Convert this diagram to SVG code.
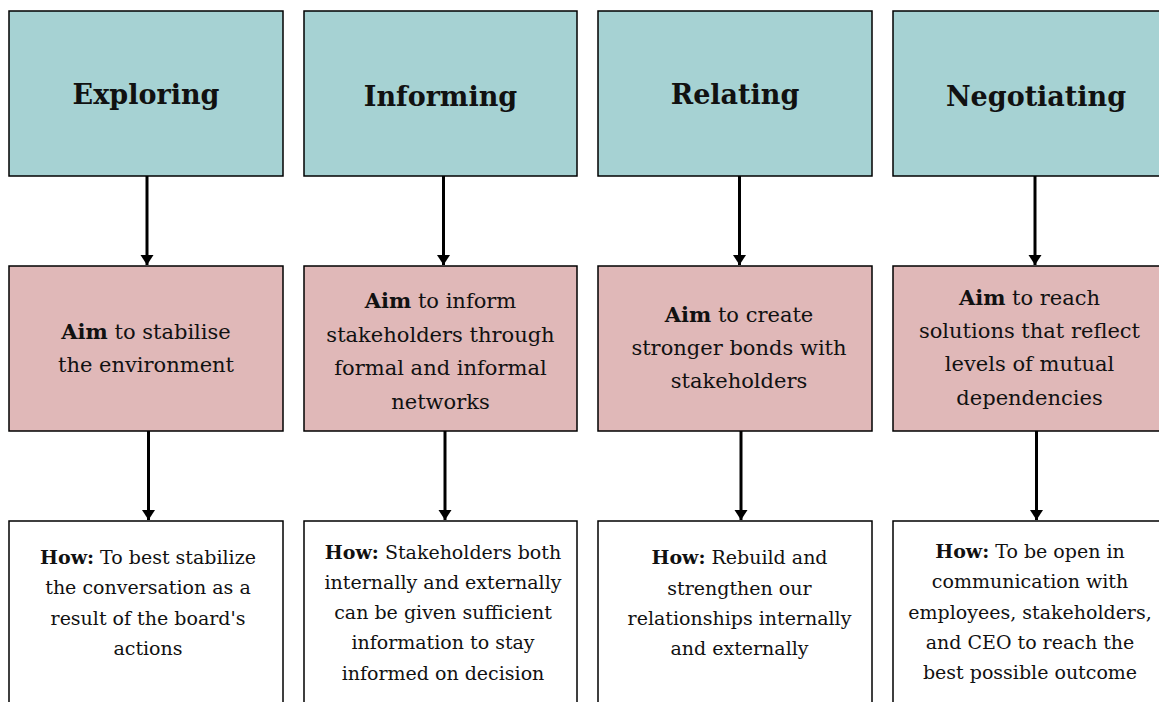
<svg xmlns="http://www.w3.org/2000/svg" width="1159" height="702" viewBox="0 0 1159 702">
<style>
.box{stroke:#000;stroke-width:1.5}
.stage{fill:#A6D2D3}
.aim{fill:#E0B8B8}
.how{fill:#FFFFFF}
text{font-family:"DejaVu Serif","Liberation Serif",serif;fill:#111;text-anchor:middle}
.t{font-size:27px;font-weight:bold}
.a{font-size:21px}
.h{font-size:19px}
.b{font-weight:bold}
.conn{stroke:#000;stroke-width:3;fill:none;marker-end:url(#arr)}
</style>
<defs>
<marker id="arr" markerUnits="userSpaceOnUse" markerWidth="11" markerHeight="14" refX="10" refY="7" orient="auto">
<path d="M0,0.5 L10,7 L0,13.5 Z" fill="#000"/>
</marker>
</defs>
<rect width="1159" height="702" fill="#fff"/>
<g id="connectors">
<line class="conn" x1="147" y1="176" x2="147" y2="265"/>
<line class="conn" x1="148.5" y1="431" x2="148.5" y2="520"/>
<line class="conn" x1="443.5" y1="176" x2="443.5" y2="265"/>
<line class="conn" x1="445" y1="431" x2="445" y2="520"/>
<line class="conn" x1="739.5" y1="176" x2="739.5" y2="265"/>
<line class="conn" x1="741" y1="431" x2="741" y2="520"/>
<line class="conn" x1="1035" y1="176" x2="1035" y2="265"/>
<line class="conn" x1="1036.5" y1="431" x2="1036.5" y2="520"/>
</g>
<g id="exploring"><rect class="box stage" x="9" y="11" width="274" height="165"/><text class="t" x="146" y="104">Exploring</text></g>
<g id="informing"><rect class="box stage" x="304" y="11" width="273" height="165"/><text class="t" x="440.5" y="106">Informing</text></g>
<g id="relating"><rect class="box stage" x="598" y="11" width="274" height="165"/><text class="t" x="735" y="104">Relating</text></g>
<g id="negotiating"><rect class="box stage" x="893" y="11" width="274" height="165"/><text class="t" x="1036" y="106">Negotiating</text></g>

<g id="aim-exploring"><rect class="box aim" x="9" y="266" width="274" height="165"/>
<text class="a" x="146" y="339"><tspan class="b">Aim</tspan> to stabilise</text>
<text class="a" x="146" y="372">the environment</text></g>
<g id="aim-informing"><rect class="box aim" x="304" y="266" width="273" height="165"/>
<text class="a" x="440.5" y="308"><tspan class="b">Aim</tspan> to inform</text>
<text class="a" x="440.5" y="342">stakeholders through</text>
<text class="a" x="440.5" y="375">formal and informal</text>
<text class="a" x="440.5" y="409">networks</text></g>
<g id="aim-relating"><rect class="box aim" x="598" y="266" width="274" height="165"/>
<text class="a" x="739" y="322"><tspan class="b">Aim</tspan> to create</text>
<text class="a" x="739" y="355">stronger bonds with</text>
<text class="a" x="739" y="388">stakeholders</text></g>
<g id="aim-negotiating"><rect class="box aim" x="893" y="266" width="274" height="165"/>
<text class="a" x="1029.5" y="305"><tspan class="b">Aim</tspan> to reach</text>
<text class="a" x="1029.5" y="338">solutions that reflect</text>
<text class="a" x="1029.5" y="371">levels of mutual</text>
<text class="a" x="1029.5" y="405">dependencies</text></g>

<g id="how-exploring"><rect class="box how" x="9" y="521" width="274" height="200"/>
<text class="h" x="148" y="564"><tspan class="b">How:</tspan> To best stabilize</text>
<text class="h" x="148" y="594">the conversation as a</text>
<text class="h" x="148" y="625">result of the board's</text>
<text class="h" x="148" y="655">actions</text></g>
<g id="how-informing"><rect class="box how" x="304" y="521" width="273" height="200"/>
<text class="h" x="443" y="559"><tspan class="b">How:</tspan> Stakeholders both</text>
<text class="h" x="443" y="589">internally and externally</text>
<text class="h" x="443" y="619">can be given sufficient</text>
<text class="h" x="443" y="649">information to stay</text>
<text class="h" x="443" y="680">informed on decision</text></g>
<g id="how-relating"><rect class="box how" x="598" y="521" width="274" height="200"/>
<text class="h" x="739.5" y="564"><tspan class="b">How:</tspan> Rebuild and</text>
<text class="h" x="739.5" y="595">strengthen our</text>
<text class="h" x="739.5" y="625">relationships internally</text>
<text class="h" x="739.5" y="655">and externally</text></g>
<g id="how-negotiating"><rect class="box how" x="893" y="521" width="274" height="200"/>
<text class="h" x="1030" y="558"><tspan class="b">How:</tspan> To be open in</text>
<text class="h" x="1030" y="588">communication with</text>
<text class="h" x="1030" y="619">employees, stakeholders,</text>
<text class="h" x="1030" y="649">and CEO to reach the</text>
<text class="h" x="1030" y="679">best possible outcome</text></g>
</svg>
